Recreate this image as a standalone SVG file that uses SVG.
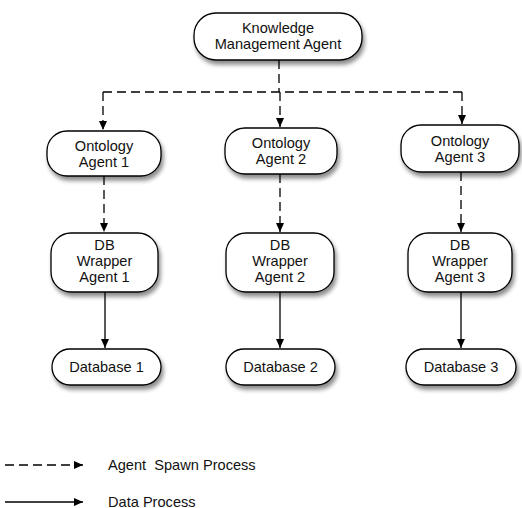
<svg xmlns="http://www.w3.org/2000/svg" width="522" height="508" viewBox="0 0 522 508">
  <defs>
    <filter id="shadow" x="-20%" y="-30%" width="150%" height="180%">
      <feDropShadow dx="2" dy="4" stdDeviation="2.2" flood-color="#000" flood-opacity="0.45"/>
    </filter>
    <marker id="arrow" viewBox="0 0 9 8" refX="9" refY="4" markerWidth="9" markerHeight="8" markerUnits="userSpaceOnUse" orient="auto">
      <path d="M0,0 L9,4 L0,8 z" fill="#000"/>
    </marker>
  </defs>
  <style>
    .node rect { fill: #fff; stroke: #000; stroke-width: 1.3; filter: url(#shadow); }
    .node text, .legend text { font-family: "Liberation Sans", Arial, sans-serif; font-size: 14.6px; fill: #111; }
    .node text { text-anchor: middle; }
    .spawn { fill: none; stroke: #000; stroke-width: 1.3; stroke-dasharray: 9 5; }
    .data { fill: none; stroke: #000; stroke-width: 1.3; }
    .arrowed { marker-end: url(#arrow); }
  </style>

  <rect width="522" height="508" fill="#fff"/>

  <!-- connectors -->
  <g id="connectors">
    <path class="spawn" d="M279,60 V92"/>
    <path class="spawn" d="M103,92 H463"/>
    <path class="spawn arrowed" d="M103,92 V130"/>
    <path class="spawn arrowed" d="M280,92 V127"/>
    <path class="spawn arrowed" d="M462,92 V124"/>
    <path class="spawn arrowed" d="M104,176 V232"/>
    <path class="spawn arrowed" d="M280,174 V232"/>
    <path class="spawn arrowed" d="M461,172 V232"/>
    <path class="data arrowed" d="M105,292 V348"/>
    <path class="data arrowed" d="M280,292 V348"/>
    <path class="data arrowed" d="M461,292 V348"/>
  </g>

  <!-- nodes -->
  <g id="kma" class="node">
    <rect x="194" y="13" width="168" height="47" rx="22"/>
    <text x="278" y="33">Knowledge</text>
    <text x="278" y="49">Management Agent</text>
  </g>

  <g id="ontology1" class="node">
    <rect x="47" y="131" width="114" height="45" rx="20"/>
    <text x="104" y="151">Ontology</text>
    <text x="104" y="167">Agent 1</text>
  </g>
  <g id="ontology2" class="node">
    <rect x="225" y="128" width="112" height="46" rx="20"/>
    <text x="281" y="148">Ontology</text>
    <text x="281" y="164">Agent 2</text>
  </g>
  <g id="ontology3" class="node">
    <rect x="401" y="125" width="118" height="47" rx="20"/>
    <text x="460" y="146">Ontology</text>
    <text x="460" y="162">Agent 3</text>
  </g>

  <g id="dbwrapper1" class="node">
    <rect x="51" y="233" width="107" height="59" rx="20"/>
    <text x="104.5" y="250">DB</text>
    <text x="104.5" y="266">Wrapper</text>
    <text x="104.5" y="282">Agent 1</text>
  </g>
  <g id="dbwrapper2" class="node">
    <rect x="226" y="233" width="108" height="59" rx="20"/>
    <text x="280" y="250">DB</text>
    <text x="280" y="266">Wrapper</text>
    <text x="280" y="282">Agent 2</text>
  </g>
  <g id="dbwrapper3" class="node">
    <rect x="408" y="233" width="104" height="59" rx="20"/>
    <text x="460" y="250">DB</text>
    <text x="460" y="266">Wrapper</text>
    <text x="460" y="282">Agent 3</text>
  </g>

  <g id="database1" class="node">
    <rect x="52" y="349" width="109" height="36" rx="18"/>
    <text x="106.5" y="372">Database 1</text>
  </g>
  <g id="database2" class="node">
    <rect x="226" y="349" width="109" height="36" rx="18"/>
    <text x="280.5" y="372">Database 2</text>
  </g>
  <g id="database3" class="node">
    <rect x="406" y="349" width="110" height="36" rx="18"/>
    <text x="461" y="372">Database 3</text>
  </g>

  <!-- legend -->
  <g id="legend" class="legend">
    <path class="spawn arrowed" d="M5,465 H83"/>
    <text x="108" y="470" xml:space="preserve">Agent  Spawn Process</text>
    <path class="data arrowed" d="M5,502 H83"/>
    <text x="108" y="506.5">Data Process</text>
  </g>
</svg>
